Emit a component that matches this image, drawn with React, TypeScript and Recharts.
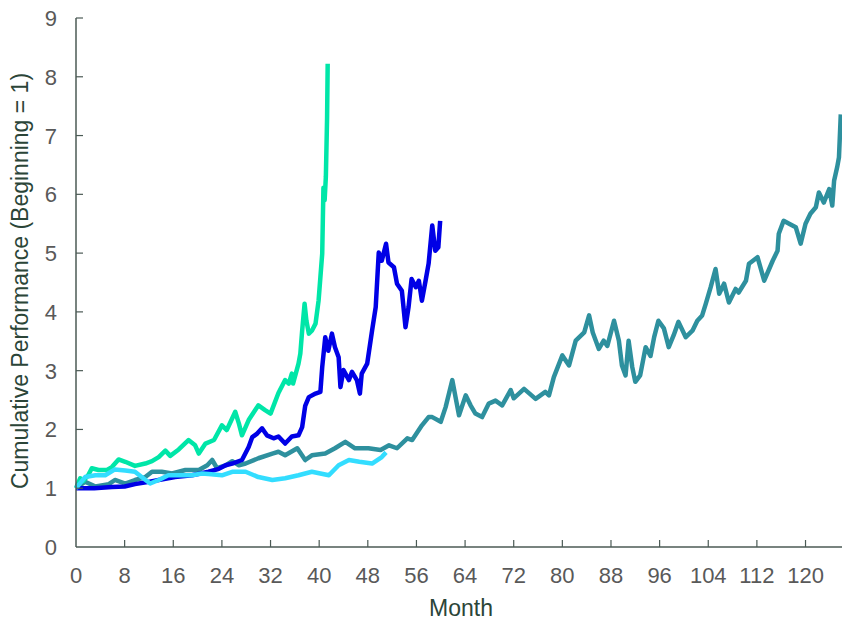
import { LineChart, Line, XAxis, YAxis, Label } from 'recharts'

// [month, cumulative performance] pairs
const greenSeries: [number, number][] = [
  [0, 1.0], [0.7, 1.17], [1.2, 1.12], [2.0, 1.22], [2.6, 1.34], [3.7, 1.31], [5.1, 1.31], [5.9, 1.36],
  [7.0, 1.49], [8.1, 1.45], [9.7, 1.38], [11.4, 1.42], [12.5, 1.46], [13.6, 1.53], [14.7, 1.64], [15.5, 1.55],
  [16.9, 1.66], [18.5, 1.82], [19.6, 1.73], [20.2, 1.59], [21.3, 1.76], [22.7, 1.82], [24.0, 2.07], [24.8, 1.99],
  [26.2, 2.3], [26.8, 2.1], [27.3, 1.9], [28.4, 2.16], [30.0, 2.41], [31.1, 2.33], [32.0, 2.27], [33.3, 2.62],
  [34.4, 2.84], [35.0, 2.78], [35.5, 2.95], [35.7, 2.78], [36.6, 3.12], [36.9, 3.29], [37.2, 3.68], [37.6, 4.14],
  [37.9, 3.85], [38.3, 3.63], [38.8, 3.68], [39.4, 3.8], [39.9, 4.19], [40.2, 4.59], [40.5, 4.99], [40.7, 6.11],
  [40.9, 5.9], [41.1, 6.3], [41.3, 7.3], [41.4, 8.22],
]

const blueSeries: [number, number][] = [
  [0, 1.0], [3, 1.0], [5.9, 1.02], [8, 1.03], [9.7, 1.07], [11.5, 1.1], [13.6, 1.14], [16.3, 1.19],
  [19.1, 1.22], [21.8, 1.28], [23.5, 1.33], [24.6, 1.39], [25.7, 1.42], [27.3, 1.48], [28.4, 1.7], [29.0, 1.87],
  [29.8, 1.93], [30.6, 2.02], [31.4, 1.9], [32.5, 1.85], [33.3, 1.88], [34.4, 1.76], [35.5, 1.88], [36.6, 1.9],
  [37.2, 2.04], [37.7, 2.4], [38.3, 2.55], [39.4, 2.61], [40.2, 2.64], [40.5, 3.06], [41.0, 3.57], [41.5, 3.34],
  [42.1, 3.63], [42.6, 3.4], [43.2, 3.23], [43.5, 2.72], [44.0, 3.01], [44.9, 2.84], [45.4, 2.98], [46.2, 2.84],
  [46.7, 2.61], [47.0, 2.95], [47.9, 3.12], [48.7, 3.68], [49.3, 4.08], [49.8, 5.01], [50.3, 4.87], [51.0, 5.16],
  [51.4, 4.84], [52.3, 4.76], [52.8, 4.48], [53.6, 4.36], [54.2, 3.74], [54.7, 4.08], [55.2, 4.56], [55.9, 4.42],
  [56.4, 4.53], [56.9, 4.19], [57.5, 4.53], [58.0, 4.82], [58.6, 5.47], [59.1, 5.04], [59.6, 5.1], [59.9, 5.55],
]

const cyanSeries: [number, number][] = [
  [0, 1.0], [1.5, 1.19], [3.2, 1.22], [4.8, 1.22], [6.4, 1.32], [8.1, 1.3], [9.7, 1.28], [10.8, 1.19],
  [12.2, 1.08], [13.6, 1.14], [15.2, 1.22], [16.9, 1.22], [19.1, 1.22], [20.7, 1.25], [21.8, 1.24], [24.0, 1.22],
  [25.7, 1.28], [27.9, 1.28], [30.0, 1.19], [32.3, 1.14], [34.4, 1.17], [36.6, 1.22], [38.8, 1.28], [41.6, 1.22],
  [43.2, 1.39], [44.9, 1.48], [46.6, 1.45], [48.7, 1.42], [50.3, 1.53], [51.0, 1.61],
]

const tealSeries: [number, number][] = [
  [0, 1.0], [1.5, 1.11], [3.2, 1.03], [5.4, 1.07], [6.4, 1.14], [8.1, 1.08], [9.7, 1.14], [11.4, 1.19],
  [12.5, 1.28], [14.1, 1.28], [15.8, 1.25], [18.0, 1.31], [20.2, 1.31], [21.6, 1.39], [22.4, 1.48], [23.2, 1.34],
  [24.6, 1.39], [25.7, 1.46], [26.8, 1.39], [27.9, 1.42], [30.0, 1.51], [32.3, 1.59], [33.3, 1.62], [34.4, 1.56],
  [36.4, 1.68], [37.7, 1.48], [38.8, 1.56], [41.0, 1.59], [42.6, 1.68], [44.3, 1.79], [45.9, 1.68], [48.1, 1.68],
  [50.1, 1.65], [51.5, 1.73], [52.8, 1.68], [54.5, 1.85], [55.3, 1.82], [56.9, 2.07], [58.0, 2.21], [58.6, 2.21],
  [60.0, 2.13], [60.8, 2.38], [61.9, 2.84], [63.0, 2.24], [64.1, 2.58], [64.9, 2.41], [65.7, 2.27], [66.8, 2.21],
  [67.9, 2.44], [69.0, 2.49], [70.1, 2.41], [71.5, 2.67], [72.0, 2.53], [73.7, 2.69], [75.6, 2.52], [77.2, 2.64],
  [77.8, 2.58], [78.6, 2.89], [80.0, 3.26], [81.1, 3.09], [82.2, 3.51], [83.6, 3.65], [84.4, 3.94], [85.0, 3.65],
  [86.0, 3.37], [86.8, 3.51], [87.4, 3.42], [88.5, 3.85], [89.3, 3.51], [89.8, 3.09], [90.4, 2.92], [90.9, 3.51],
  [91.5, 3.06], [92.0, 2.81], [92.8, 2.92], [93.7, 3.4], [94.5, 3.25], [95.1, 3.57], [95.8, 3.85], [96.7, 3.72],
  [97.5, 3.4], [98.3, 3.6], [99.1, 3.83], [100.3, 3.57], [101.4, 3.68], [102.2, 3.85], [103.0, 3.94], [103.6, 4.14],
  [104.4, 4.42], [105.2, 4.73], [105.8, 4.31], [106.6, 4.48], [107.4, 4.16], [108.5, 4.39], [109.0, 4.33], [110.2, 4.53],
  [110.7, 4.82], [112.1, 4.93], [113.2, 4.53], [114.6, 4.87], [115.4, 5.04], [115.6, 5.33], [116.4, 5.55], [117.3, 5.5],
  [118.4, 5.44], [119.2, 5.16], [120.0, 5.5], [120.8, 5.67], [121.7, 5.78], [122.2, 6.03], [123.0, 5.86], [123.9, 6.09],
  [124.4, 5.81], [124.7, 6.23], [125.2, 6.46], [125.5, 6.63], [125.8, 7.36],
]

const monthTicks = [0, 8, 16, 24, 32, 40, 48, 56, 64, 72, 80, 88, 96, 104, 112, 120]
const perfTicks = [0, 1, 2, 3, 4, 5, 6, 7, 8, 9]

const toRows = (pts: [number, number][]) => pts.map(([m, v]) => ({ m, v }))

const FONT = '"Liberation Sans", Arial, sans-serif'
const AXIS = '#4b5a55'
const TICK_TEXT = '#595959'
const TITLE = '#2b4538'

const XTick = (props: any) => {
  const { x, y, payload } = props
  return (
    <g>
      {payload.value !== 0 && <line x1={x} y1={y} x2={x} y2={y - 7} stroke={AXIS} strokeWidth={1.2} />}
      <text x={x} y={y + 36} textAnchor="middle" fill={TICK_TEXT} fontSize={22} fontFamily={FONT}>
        {payload.value}
      </text>
    </g>
  )
}

const YTick = (props: any) => {
  const { x, y, payload } = props
  return (
    <g>
      {payload.value !== 0 && <line x1={x} y1={y} x2={x + 7} y2={y} stroke={AXIS} strokeWidth={1.2} />}
      <text x={x - 19} y={y + 8} textAnchor="end" fill={TICK_TEXT} fontSize={22} fontFamily={FONT}>
        {payload.value}
      </text>
    </g>
  )
}

const lineProps = {
  dataKey: 'v',
  type: 'linear' as const,
  strokeWidth: 4.5,
  strokeLinejoin: 'round' as const,
  dot: false,
  isAnimationActive: false,
}

export default function App() {
  return (
    <div style={{ position: 'absolute', left: 0, top: 0, background: '#fff' }}>
      <LineChart width={842} height={621} margin={{ top: 18, right: 0, bottom: 0, left: 0 }}>
        <XAxis
          type="number"
          dataKey="m"
          domain={[0, 126]}
          ticks={monthTicks}
          interval={0}
          tickSize={0}
          tickMargin={0}
          tickLine={false}
          height={74}
          axisLine={{ stroke: AXIS, strokeWidth: 1.5 }}
          tick={<XTick />}
        >
          <Label
            content={() => (
              <text x={461} y={616} textAnchor="middle" fill={TITLE} fontSize={23} fontFamily={FONT}>
                Month
              </text>
            )}
          />
        </XAxis>
        <YAxis
          type="number"
          dataKey="v"
          domain={[0, 9]}
          ticks={perfTicks}
          interval={0}
          tickSize={0}
          tickMargin={0}
          tickLine={false}
          width={76}
          axisLine={{ stroke: AXIS, strokeWidth: 1.5 }}
          tick={<YTick />}
        >
          <Label
            content={() => (
              <text
                x={28}
                y={281}
                transform="rotate(-90, 28, 281)"
                textAnchor="middle"
                fill={TITLE}
                fontSize={23}
                fontFamily={FONT}
              >
                Cumulative Performance (Beginning = 1)
              </text>
            )}
          />
        </YAxis>
        <Line {...lineProps} data={toRows(tealSeries)} stroke="#2E909E" />
        <Line {...lineProps} data={toRows(blueSeries)} stroke="#0000E6" />
        <Line {...lineProps} data={toRows(greenSeries)} stroke="#00E6A8" />
        <Line {...lineProps} data={toRows(cyanSeries)} stroke="#33DDFF" />
      </LineChart>
    </div>
  )
}
